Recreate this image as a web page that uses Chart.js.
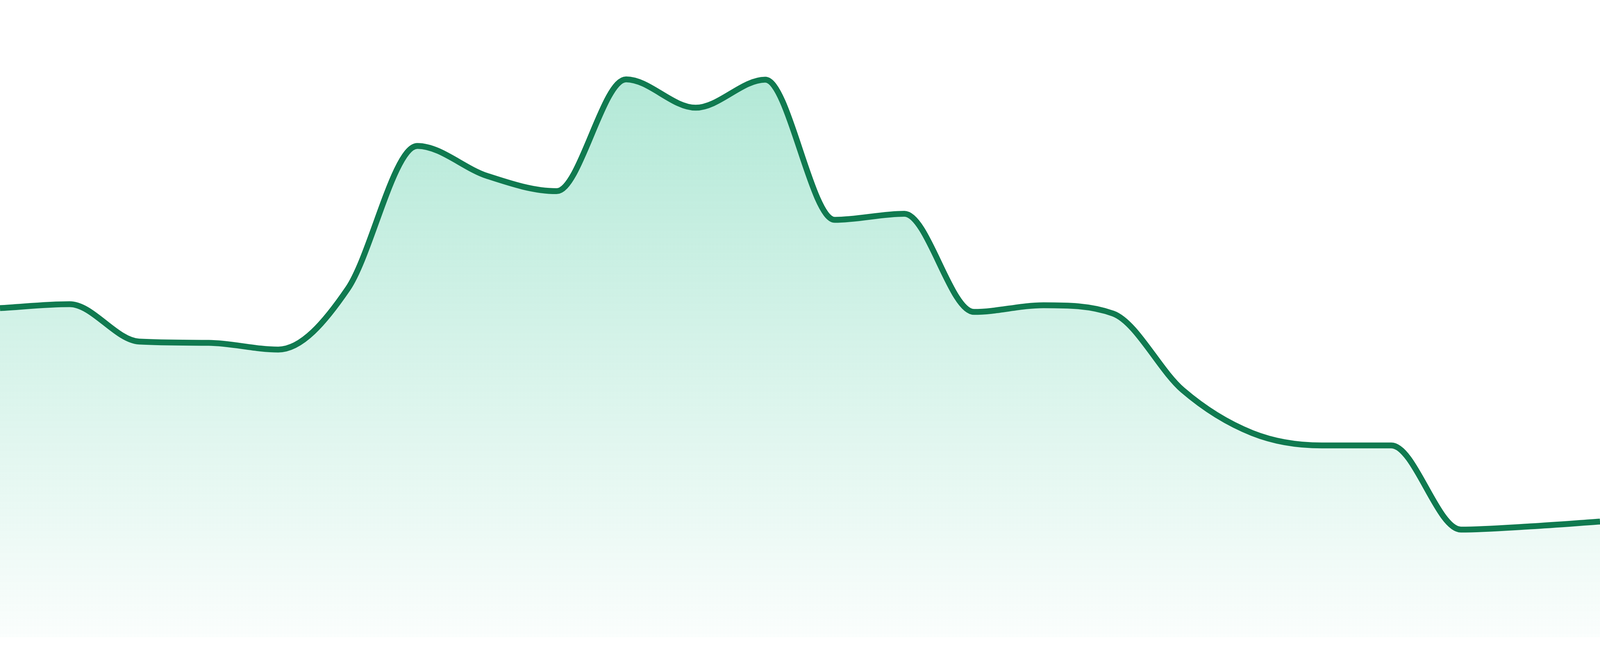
<!DOCTYPE html>
<html>
<head>
<meta charset="utf-8">
<script src="https://cdn.jsdelivr.net/npm/chart.js@4.4.1/dist/chart.umd.min.js"></script>
<style>
  html, body { margin: 0; padding: 0; background: #ffffff; overflow: hidden; }
  #wrap { width: 100vw; height: 100vh; position: relative; }
</style>
</head>
<body>
<div id="wrap"><canvas id="c"></canvas></div>
<script>
const labels = ["1","2","3","4","5","6","7","8","9","10","11","12","13","14","15","16","17","18","19","20","21","22","23","24"];
const values = [51.65, 52.27, 46.4, 46.2, 45.15, 54.7, 77.1, 72.4, 70.0, 87.55, 83.1, 87.5,
                65.5, 66.45, 51.05, 52.1, 50.8, 38.8, 32.05, 30.1, 30.1, 16.9, 17.4, 18.15];
const yMin = 0;
const yMax = 100;

const lineColor = '#107a50';
const k = window.innerHeight / 1680;

const ctx = document.getElementById('c').getContext('2d');
new Chart(ctx, {
  type: 'line',
  data: {
    labels: labels,
    datasets: [{
      data: values,
      borderColor: lineColor,
      borderWidth: 15 * k,
      pointRadius: 0,
      pointHoverRadius: 0,
      cubicInterpolationMode: 'monotone',
      fill: 'start',
      backgroundColor: function (context) {
        const chart = context.chart;
        const area = chart.chartArea;
        if (!area) return 'rgba(16,185,129,0.2)';
        const g = chart.ctx.createLinearGradient(0, area.top, 0, area.bottom);
        g.addColorStop(0, 'rgba(16,185,129,0.36)');
        g.addColorStop(1, 'rgba(16,185,129,0.02)');
        return g;
      }
    }]
  },
  options: {
    responsive: true,
    maintainAspectRatio: false,
    animation: false,
    layout: { padding: { top: 0, bottom: 48 * k, left: 0, right: 0 } },
    plugins: { legend: { display: false }, tooltip: { enabled: false } },
    scales: {
      x: { display: false },
      y: { display: false, min: yMin, max: yMax }
    }
  }
});
</script>
</body>
</html>
